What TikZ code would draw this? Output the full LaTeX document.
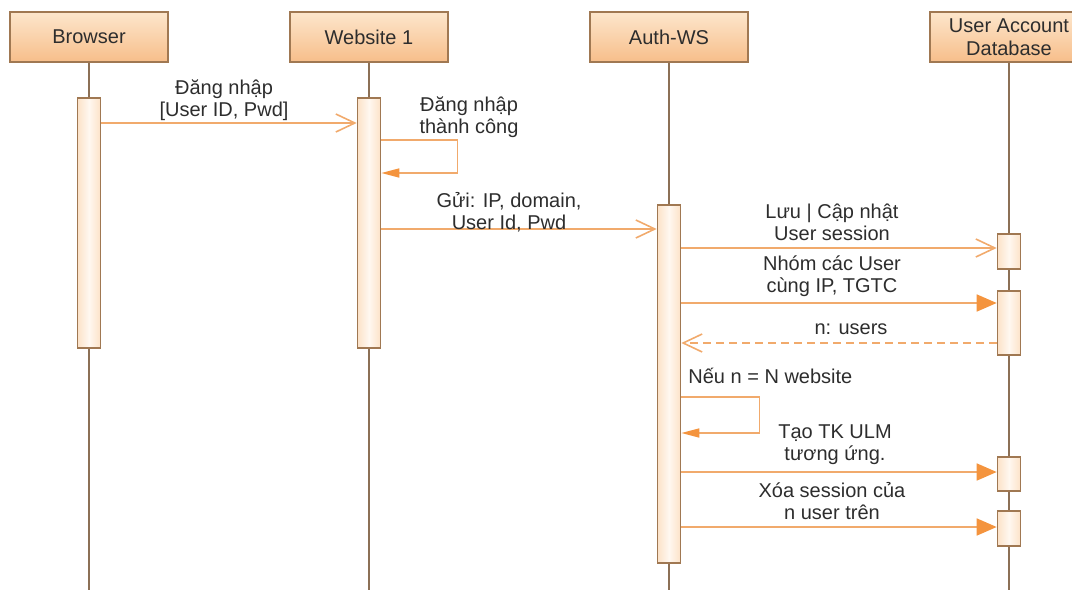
\documentclass[tikz,border=0pt]{standalone}
\usepackage{fontspec}
\setmainfont{Liberation Sans}
\usetikzlibrary{arrows.meta}

\definecolor{headtop}{RGB}{253,230,204}
\definecolor{headbot}{RGB}{247,190,138}
\definecolor{boxline}{RGB}{160,120,82}
\definecolor{barside}{RGB}{252,226,200}
\definecolor{barmid}{RGB}{255,248,240}
\definecolor{lifecol}{RGB}{140,112,86}
\definecolor{msgcol}{RGB}{241,170,108}
\definecolor{headcol}{RGB}{244,148,62}
\definecolor{textgray}{RGB}{45,45,45}

\begin{document}
\begin{tikzpicture}[x=0.5pt,y=-0.5pt,
    every node/.style={font=\fontsize{10}{11}\selectfont, text=textgray, align=center},
    header/.style={draw=boxline, line width=0.8pt, top color=headtop, bottom color=headbot,
      minimum width=79pt, minimum height=25pt, inner sep=0pt},
    actbar/.style={draw=boxline, line width=0.8pt, left color=barside, right color=barside,
      middle color=barmid, minimum width=11.5pt, inner sep=0pt},
    lifeline/.style={draw=lifecol, line width=0.8pt},
    msg/.style={draw=msgcol, line width=0.8pt, -{Straight Barb[length=9.5pt,width=9pt]}},
    call/.style={draw=msgcol, line width=0.8pt, -{Triangle[length=10pt,width=8.5pt,color=headcol]}},
    selfcall/.style={draw=msgcol, line width=0.8pt, -{Triangle[length=9pt,width=4.5pt,color=headcol]}},
    reply/.style={msg, dash pattern=on 4pt off 2.5pt}]
  \useasboundingbox (0,0) rectangle (1072,590);

  % participants
  \node[header] (browser) at (89,37) {Browser};
  \node[header] (website) at (369,37) {Website 1};
  \node[header] (auth) at (669,37) {Auth-WS};
  \node[header, font=\fontsize{10}{11.5}\selectfont] (db) at (1009,37) {User Account\\Database};

  % lifelines
  \coordinate (browserEnd) at (89,590);
  \coordinate (websiteEnd) at (369,590);
  \coordinate (authEnd) at (669,590);
  \coordinate (dbEnd) at (1009,590);
  \draw[lifeline] (browser.south) -- (browserEnd);
  \draw[lifeline] (website.south) -- (websiteEnd);
  \draw[lifeline] (auth.south) -- (authEnd);
  \draw[lifeline] (db.south) -- (dbEnd);

  % activations
  \node[actbar, minimum height=125pt] (browserAct) at (89,223) {};
  \node[actbar, minimum height=125pt] (websiteAct) at (369,223) {};
  \node[actbar, minimum height=179pt] (authAct) at (669,384) {};
  \node[actbar, minimum height=17.5pt] (dbActA) at (1009,251.5) {};
  \node[actbar, minimum height=32pt] (dbActB) at (1009,323) {};
  \node[actbar, minimum height=17pt] (dbActC) at (1009,474) {};
  \node[actbar, minimum height=17.5pt] (dbActD) at (1009,528.5) {};

  % message rows
  \coordinate (r1) at (0,123);
  \coordinate (s1a) at (0,140);
  \coordinate (s1b) at (0,173);
  \coordinate (r2) at (0,229);
  \coordinate (r3) at (0,248);
  \coordinate (r4) at (0,303);
  \coordinate (r5) at (0,343);
  \coordinate (s2a) at (0,397);
  \coordinate (s2b) at (0,433);
  \coordinate (r6) at (0,472);
  \coordinate (r7) at (0,527);

  \draw[msg] (browserAct.east |- r1) -- (websiteAct.west |- r1);
  \node at (224,100) {Đăng nhập\\{}[User ID, Pwd]};

  \draw[selfcall] (websiteAct.east |- s1a) -- ++(76,0) -- ++(0,33) -- (websiteAct.east |- s1b);
  \node at (469,117) {Đăng nhập\\thành công};

  \draw[msg] (websiteAct.east |- r2) -- (authAct.west |- r2);
  \node at (509,212) {Gửi: IP, domain,\\User Id, Pwd};

  \draw[msg] (authAct.east |- r3) -- (dbActA.west |- r3);
  \node at (832,222) {Lưu | Cập nhật\\User session};

  \draw[call] (authAct.east |- r4) -- (dbActB.west |- r4);
  \node at (832,276) {Nhóm các User\\cùng IP, TGTC};

  \draw[reply] (dbActB.west |- r5) -- (authAct.east |- r5);
  \node at (851,329) {n: users};

  \node[anchor=west, inner sep=0pt] at (688,376) {Nếu n = N website};
  \draw[selfcall] (authAct.east |- s2a) -- ++(78,0) -- ++(0,36) -- (authAct.east |- s2b);

  \draw[call] (authAct.east |- r6) -- (dbActC.west |- r6);
  \node at (835,445) {Tạo TK ULM\\tương ứng.};

  \draw[call] (authAct.east |- r7) -- (dbActD.west |- r7);
  \node at (832,501) {Xóa session của\\n user trên};
\end{tikzpicture}
\end{document}
